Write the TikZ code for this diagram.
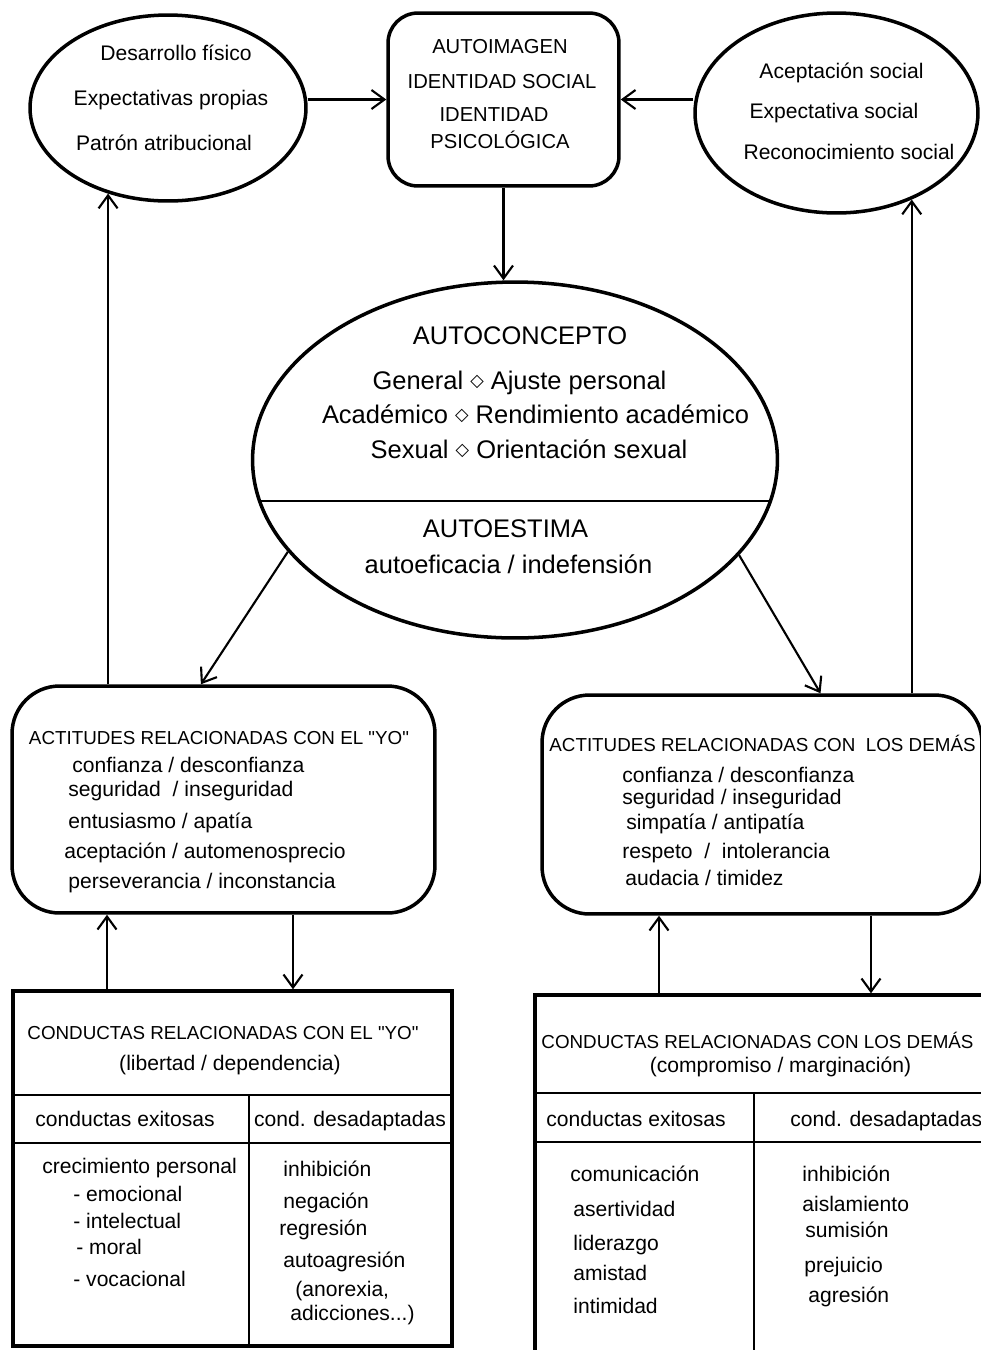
\documentclass[tikz,border=0pt]{standalone}
\usepackage{fontspec}
\setmainfont{Liberation Sans}
\newfontfamily\fuentesim{DejaVu Sans}
\usetikzlibrary{shapes.geometric,arrows.meta,calc}
\newcommand{\rombo}{\raisebox{0.12em}{\fuentesim\fontsize{10}{10}\selectfont ◇}}

\begin{document}
\begin{tikzpicture}[x=0.02cm, y=-0.02cm, >={Straight Barb[length=2.6mm,width=3.8mm]},
	borde/.style={draw, line width=2pt, inner sep=0pt},
	flecha/.style={->, line width=1.2pt},
	txt/.style={inner sep=0pt, text height=0.72em, text depth=0pt},
	chico/.style={txt, font=\fontsize{12}{14}\selectfont},
	mayus/.style={txt, font=\fontsize{11.5}{13}\selectfont},
	cab/.style={txt, font=\fontsize{10.7}{12}\selectfont},
	grande/.style={txt, font=\fontsize{14.5}{17}\selectfont}]
			\useasboundingbox (0,0) rectangle (981,1350);
			\clip (0,0) rectangle (981,1350);

			\node (a)[borde, ellipse, minimum width=5.52cm, minimum height=3.72cm] at (168,108) {};
			\node (b)[borde, rounded corners=0.6cm, minimum width=4.62cm, minimum height=3.46cm] at (503.5,99.5) {};
			\node (c)[borde, ellipse, minimum width=5.66cm, minimum height=4cm] at (836.5,113) {};
			\node (d)[borde, ellipse, minimum width=10.5cm, minimum height=7.12cm] at (515,460) {};
			\node (e)[borde, rounded corners=0.95cm, minimum width=8.46cm, minimum height=4.54cm] at (223.5,799.5) {};
			\node (f)[borde, rounded corners=0.95cm, minimum width=8.8cm, minimum height=4.38cm] at (762,804.5) {};
			\node (g)[borde, minimum width=8.78cm, minimum height=7.1cm] at (232.5,1168.5) {};
			\node (h)[borde, minimum width=9.3cm, minimum height=7.7cm] at (767.5,1187.5) {};

			\node (a1)[chico] at (176,54) {Desarrollo físico};
			\node (a2)[chico] at (171,99) {Expectativas propias};
			\node (a3)[chico] at (164,144) {Patrón atribucional};

			\node (b1)[mayus] at (500,47) {AUTOIMAGEN};
			\node (b2)[mayus] at (502,82) {IDENTIDAD SOCIAL};
			\node (b3)[mayus] at (494,115) {IDENTIDAD};
			\node (b4)[mayus] at (500,142) {PSICOLÓGICA};

			\node (c1)[chico] at (841.5,72) {Aceptación social};
			\node (c2)[chico] at (834,112) {Expectativa social};
			\node (c3)[chico] at (849,153) {Reconocimiento social};

			\draw[line width=1.2pt] (d.189.1) -- (d.-9.1);
			\node (d1)[grande] at (520,338) {AUTOCONCEPTO};
			\node (d2)[grande] at (519.5,383) {General \rombo{} Ajuste personal};
			\node (d3)[grande] at (535.5,417) {Académico \rombo{} Rendimiento académico};
			\node (d4)[grande] at (529,452) {Sexual \rombo{} Orientación sexual};
			\node (d5)[grande] at (505.5,531) {AUTOESTIMA};
			\node (d6)[grande] at (508.5,567) {autoeficacia / indefensión};

			\node (e0)[cab] at (219,738) {ACTITUDES RELACIONADAS CON EL \textquotedbl YO\textquotedbl};
			\node (e1)[chico, anchor=west] at (72,766) {confianza / desconfianza};
			\node (e2)[chico, anchor=west] at (68,790) {seguridad~ / inseguridad};
			\node (e3)[chico, anchor=west] at (68,822) {entusiasmo / apatía};
			\node (e4)[chico, anchor=west] at (64,852) {aceptación / automenosprecio};
			\node (e5)[chico, anchor=west] at (68,882) {perseverancia / inconstancia};

			\node (f0)[cab] at (762.5,745) {ACTITUDES RELACIONADAS CON~ LOS DEMÁS};
			\node (f1)[chico, anchor=west] at (622,776) {confianza / desconfianza};
			\node (f2)[chico, anchor=west] at (622,798) {seguridad / inseguridad};
			\node (f3)[chico, anchor=west] at (626,823) {simpatía / antipatía};
			\node (f4)[chico, anchor=west] at (622,852) {respeto~ / ~intolerancia};
			\node (f5)[chico, anchor=west] at (625,879) {audacia / timidez};

			\draw[line width=1.6pt] (g.west |- 0,1095) -- (g.east |- 0,1095);
			\draw[line width=1.6pt] (g.west |- 0,1143) -- (g.east |- 0,1143);
			\draw[line width=1.6pt] (249,1095) -- (249,0 |- g.south);
			\node (g0)[cab] at (223,1033) {CONDUCTAS RELACIONADAS CON EL \textquotedbl YO\textquotedbl};
			\node (g1)[chico] at (230,1064) {(libertad / dependencia)};
			\node (g2)[chico] at (125,1120) {conductas exitosas};
			\node (g3)[chico] at (350,1120) {cond. desadaptadas};
			\node (g4)[chico, anchor=west] at (42,1167) {crecimiento personal};
			\node (g5)[chico, anchor=west] at (73,1195) {- emocional};
			\node (g6)[chico, anchor=west] at (73,1222) {- intelectual};
			\node (g7)[chico, anchor=west] at (76,1248) {- moral};
			\node (g8)[chico, anchor=west] at (73,1280) {- vocacional};
			\node (g9)[chico, anchor=west] at (283,1170) {inhibición};
			\node (g10)[chico, anchor=west] at (283,1202) {negación};
			\node (g11)[chico, anchor=west] at (279,1229) {regresión};
			\node (g12)[chico, anchor=west] at (283,1261) {autoagresión};
			\node (g13)[chico, anchor=west] at (295,1290) {(anorexia,};
			\node (g14)[chico, anchor=west] at (290,1314) {adicciones...)};

			\draw[line width=1.6pt] (h.west |- 0,1093) -- (h.east |- 0,1093);
			\draw[line width=1.6pt] (h.west |- 0,1142) -- (h.east |- 0,1142);
			\draw[line width=1.6pt] (754,1093) -- (754,0 |- h.south);
			\node (h0)[cab] at (757.5,1042) {CONDUCTAS RELACIONADAS CON LOS DEMÁS};
			\node (h1)[chico] at (780.5,1066) {(compromiso / marginación)};
			\node (h2)[chico] at (636,1120) {conductas exitosas};
			\node (h3)[chico, anchor=west] at (790,1120) {cond. desadaptadas};
			\node (h4)[chico, anchor=west] at (570,1175) {comunicación};
			\node (h5)[chico, anchor=west] at (573,1210) {asertividad};
			\node (h6)[chico, anchor=west] at (573,1244) {liderazgo};
			\node (h7)[chico, anchor=west] at (573,1274) {amistad};
			\node (h8)[chico, anchor=west] at (573,1307) {intimidad};
			\node (h9)[chico, anchor=west] at (802,1175) {inhibición};
			\node (h10)[chico, anchor=west] at (802,1205) {aislamiento};
			\node (h11)[chico, anchor=west] at (805,1231) {sumisión};
			\node (h12)[chico, anchor=west] at (804,1266) {prejuicio};
			\node (h13)[chico, anchor=west] at (808,1296) {agresión};

			\draw[flecha] (a.east |- b.west) -- (b.west);
			\draw[flecha] (c.west |- b.east) -- (b.east);
			\draw[flecha] (b.south) -- (b.south |- d.north);
			\draw[flecha] (d.202.5) -- ($(e.north west)!0.447!(e.north east)$);
			\draw[flecha] (d.-23.7) -- ($(f.north west)!0.632!(f.north east)$);
			\draw[flecha] (e.north -| a.235.5) -- (a.235.5);
			\draw[flecha] (f.north -| c.-49.3) -- (c.-49.3);
			\draw[flecha] (107,0 |- g.north) -- (107,0 |- e.south);
			\draw[flecha] (293,0 |- e.south) -- (293,0 |- g.north);
			\draw[flecha] (659,0 |- h.north) -- (659,0 |- f.south);
			\draw[flecha] (871,0 |- f.south) -- (871,0 |- h.north);
		\end{tikzpicture}
\end{document}
